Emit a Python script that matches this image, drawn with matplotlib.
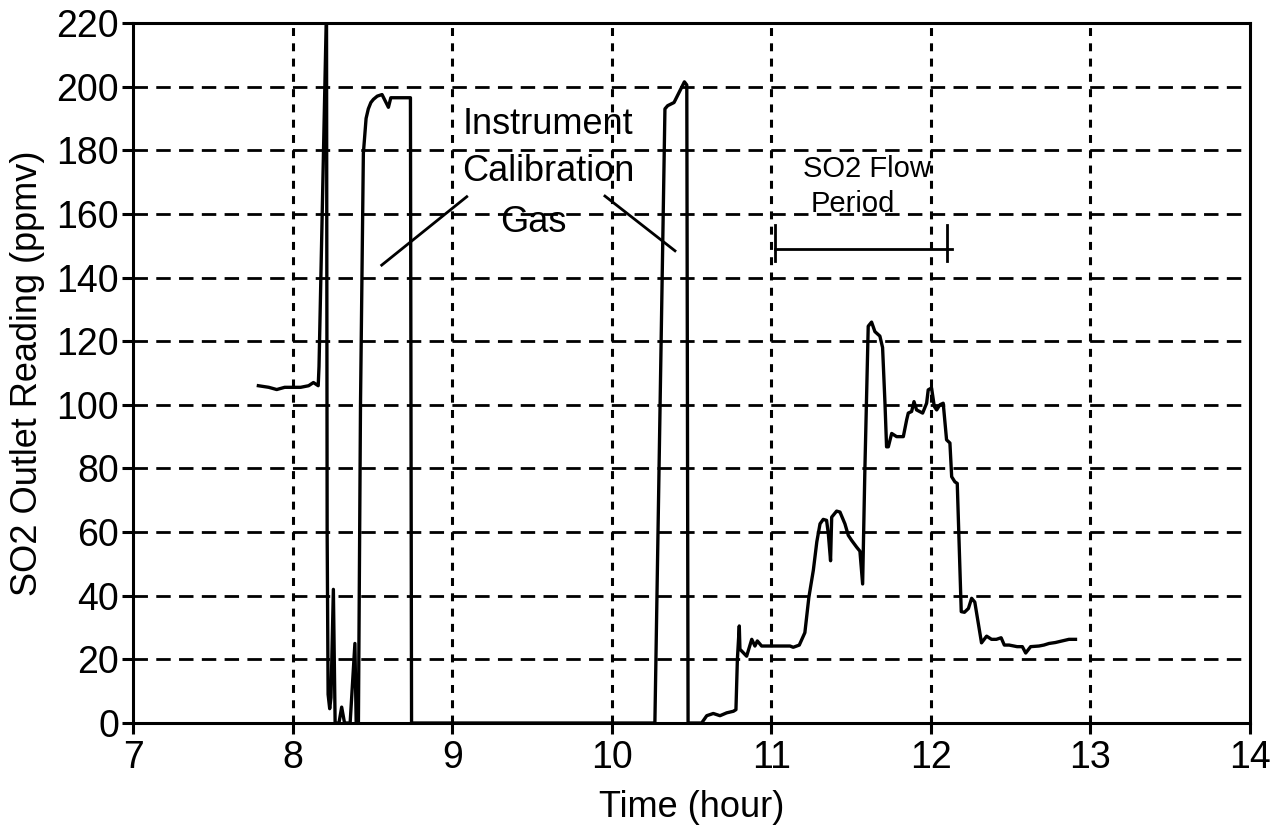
import matplotlib
matplotlib.use("Agg")
import matplotlib.pyplot as plt

plt.rcParams['font.family'] = ['Liberation Sans', 'DejaVu Sans']

# ---- data (time in hours, SO2 outlet reading in ppmv) ----
time_h = [
    7.785, 7.85, 7.90, 7.95, 8.05, 8.10, 8.13, 8.16, 8.165, 8.212,
    8.216, 8.222, 8.232, 8.24, 8.255, 8.266, 8.29, 8.307, 8.325, 8.36,
    8.39, 8.398, 8.412, 8.425, 8.443, 8.46, 8.474, 8.49, 8.506, 8.53,
    8.56, 8.58, 8.60, 8.615, 8.64, 8.68, 8.738, 8.745, 9.5, 10.27,
    10.333, 10.35, 10.39, 10.41, 10.43, 10.455, 10.47, 10.478, 10.52, 10.563,
    10.595, 10.636, 10.678, 10.72, 10.762, 10.778, 10.787, 10.799, 10.803, 10.845,
    10.877, 10.897, 10.912, 10.939, 11.0, 11.06, 11.117, 11.137, 11.175, 11.21,
    11.235, 11.263, 11.285, 11.305, 11.325, 11.346, 11.357, 11.371, 11.378, 11.409,
    11.43, 11.461, 11.482, 11.503, 11.534, 11.555, 11.572, 11.586, 11.607, 11.628,
    11.649, 11.68, 11.697, 11.712, 11.722, 11.733, 11.754, 11.785, 11.827, 11.848,
    11.858, 11.879, 11.894, 11.91, 11.948, 11.973, 11.983, 12.004, 12.021, 12.036,
    12.056, 12.077, 12.098, 12.119, 12.13, 12.15, 12.165, 12.19, 12.21, 12.235,
    12.255, 12.275, 12.296, 12.317, 12.349, 12.38, 12.41, 12.44, 12.46, 12.49,
    12.54, 12.573, 12.594, 12.625, 12.677, 12.708, 12.74, 12.78, 12.823, 12.865,
    12.906,
]
so2_ppmv = [
    106, 105.5, 104.8, 105.5, 105.5, 106, 107, 106, 112, 225,
    60, 9, 4.5, 8, 42, 0, 0, 5, 0, 0,
    25, 0, 0, 100, 179, 190, 193, 195, 196, 197,
    197.5, 195.5, 193.5, 196.5, 196.5, 196.5, 196.5, 0, 0, 0,
    193, 194, 195, 197, 199, 201.5, 200.5, 0, 0, 0,
    2.3, 3, 2.3, 3.2, 3.7, 4.2, 20, 30.5, 23.2, 21,
    26.3, 24.2, 25.8, 24.2, 24.2, 24.2, 24.2, 23.8, 24.5, 28.4,
    39.5, 48, 57, 62.6, 64, 63.7, 59.5, 51, 64.7, 66.6,
    66.3, 62.6, 59, 57.4, 55.3, 54, 43.7, 79.5, 124.7, 126.0,
    123, 121.6, 118, 100.5, 86.8, 86.8, 91, 90, 90, 95.3,
    97.4, 97.9, 101, 98.4, 97.4, 100.5, 104.7, 105.3, 99.5, 98.4,
    100, 100.5, 89, 88, 77.4, 75.8, 75.3, 35, 34.8, 36,
    39.2, 38, 31.5, 25.2, 27.3, 26.3, 26.3, 26.8, 24.5, 24.5,
    24.0, 24.0, 22.0, 24.0, 24.2, 24.5, 25.0, 25.3, 25.8, 26.3,
    26.3,
]

x_ticks = [7, 8, 9, 10, 11, 12, 13, 14]
y_ticks = [0, 20, 40, 60, 80, 100, 120, 140, 160, 180, 200, 220]

# SO2 flow period bracket (hours) and its level
flow_start, flow_end, flow_level = 11.02, 12.1, 149

fig = plt.figure(figsize=(12.8, 8.38), dpi=100)
ax = fig.add_axes([0.104, 0.1372, 0.8726, 0.8354])

ax.set_xlim(7, 14)
ax.set_ylim(0, 220)

# grid: dashed horizontals, dotted verticals
for yv in y_ticks[1:-1]:
    ax.axhline(yv, color='black', lw=2.0, dashes=(5.2, 3.0), zorder=1)
for xv in x_ticks[1:-1]:
    ax.axvline(xv, color='black', lw=2.2, dashes=(2.6, 2.4), zorder=1)

ax.plot(time_h, so2_ppmv, color='black', lw=2.4, zorder=3,
        solid_joinstyle='round')

for s in ax.spines.values():
    s.set_linewidth(2.2)
    s.set_color('black')
    s.set_zorder(4)

ax.set_xticks(x_ticks)
ax.set_yticks(y_ticks)
ax.tick_params(axis='both', direction='out', length=8, width=2.2,
               labelsize=27, pad=2, colors='black')
ax.tick_params(axis='x', pad=4)

ax.set_xlabel('Time (hour)', fontsize=26, labelpad=10)
ax.set_ylabel('SO2 Outlet Reading (ppmv)', fontsize=26, labelpad=8)

# annotations
ax.text(9.6, 188, 'Instrument', fontsize=26, ha='center', va='center')
ax.text(9.6, 173.3, 'Calibration', fontsize=26, ha='center', va='center')
ax.text(9.506, 157.2, 'Gas', fontsize=26, ha='center', va='center')
ax.plot([8.558, 9.091], [143.9, 165.4], color='black', lw=2.0)
ax.plot([9.957, 10.396], [165.6, 148.4], color='black', lw=2.0)

ax.text(11.599, 174, 'SO2 Flow', fontsize=21, ha='center', va='center')
ax.text(11.511, 163, 'Period', fontsize=21, ha='center', va='center')
ax.plot([flow_start, flow_end + 0.03], [flow_level, flow_level], color='black', lw=2.0)
ax.plot([flow_start, flow_start], [145.2, 156.5], color='black', lw=2.0)
ax.plot([flow_end, flow_end], [145.2, 156.5], color='black', lw=2.0)

fig.savefig('out.png', dpi=100)
